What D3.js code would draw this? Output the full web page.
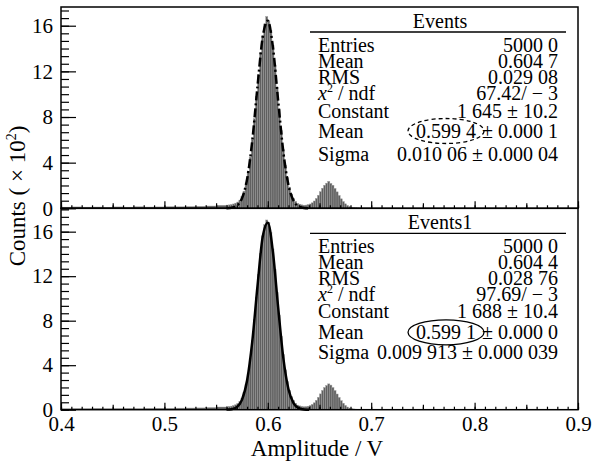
<!DOCTYPE html>
<html>
<head>
<meta charset="utf-8">
<script src="https://cdn.jsdelivr.net/npm/d3@7"></script>
<style>
body { margin: 0; background: #fff; }
svg { display: block; font-family: "Liberation Serif", "Times New Roman", serif; }
</style>
</head>
<body>
<svg id="chart" width="592" height="463" font-family="Liberation Serif, serif"></svg>
<script>
// bin edges (V): coarse bins on the flat part, 0.002 V bins over the peaks
const binEdges = [
  0.40, 0.41, 0.42, 0.43, 0.44, 0.45, 0.46, 0.47, 0.48, 0.49, 0.50, 0.51, 0.52, 0.53, 0.54, 0.55,
  0.560, 0.562, 0.564, 0.566, 0.568, 0.570, 0.572, 0.574, 0.576, 0.578,
  0.580, 0.582, 0.584, 0.586, 0.588, 0.590, 0.592, 0.594, 0.596, 0.598,
  0.600, 0.602, 0.604, 0.606, 0.608, 0.610, 0.612, 0.614, 0.616, 0.618,
  0.620, 0.622, 0.624, 0.626, 0.628, 0.630, 0.632, 0.634, 0.636, 0.638,
  0.640, 0.642, 0.644, 0.646, 0.648, 0.650, 0.652, 0.654, 0.656, 0.658,
  0.660, 0.662, 0.664, 0.666, 0.668, 0.670, 0.672, 0.674, 0.676, 0.678,
  0.680, 0.682, 0.684, 0.686, 0.688, 0.690, 0.692, 0.694, 0.696, 0.698, 0.700
];

// counts (x 10^2) per bin, "Events"
const countsTop = [
  0.10, 0.12, 0.10, 0.11, 0.09, 0.12, 0.10, 0.13, 0.11, 0.12, 0.14, 0.13, 0.15, 0.17, 0.20, 0.26,
  0.28, 0.30, 0.33, 0.38, 0.45, 0.55, 0.72, 1.02, 1.50, 2.22,
  3.20, 4.48, 6.02, 7.85, 9.80, 11.75, 13.62, 15.10, 16.15, 16.80,
  16.42, 15.60, 14.28, 12.55, 10.62, 8.66, 6.80, 5.15, 3.78, 2.68,
  1.86, 1.26, 0.86, 0.60, 0.43, 0.36, 0.30, 0.27, 0.28, 0.32,
  0.38, 0.48, 0.64, 0.86, 1.14, 1.45, 1.76, 2.02, 2.20, 2.36,
  2.18, 2.02, 1.74, 1.44, 1.12, 0.83, 0.59, 0.39, 0.25, 0.16,
  0.10, 0.07, 0.05, 0.04, 0.03, 0.03, 0.02, 0.02, 0.02, 0.02
];

// counts (x 10^2) per bin, "Events1"
const countsBottom = [
  0.09, 0.11, 0.10, 0.12, 0.10, 0.11, 0.12, 0.10, 0.12, 0.13, 0.12, 0.14, 0.15, 0.16, 0.19, 0.24,
  0.27, 0.29, 0.32, 0.37, 0.44, 0.56, 0.74, 1.04, 1.55, 2.28,
  3.30, 4.62, 6.22, 8.10, 10.12, 12.15, 14.02, 15.62, 16.62, 17.05,
  16.85, 15.92, 14.45, 12.60, 10.55, 8.50, 6.60, 4.95, 3.58, 2.52,
  1.74, 1.18, 0.82, 0.57, 0.41, 0.34, 0.29, 0.26, 0.27, 0.31,
  0.37, 0.47, 0.62, 0.84, 1.11, 1.42, 1.73, 1.99, 2.17, 2.32,
  2.21, 1.99, 1.72, 1.41, 1.10, 0.81, 0.58, 0.38, 0.24, 0.15,
  0.10, 0.07, 0.05, 0.04, 0.03, 0.03, 0.02, 0.02, 0.02, 0.01
];

// gaussian fit curves
const fitX = [0.560, 0.565, 0.570, 0.575, 0.580, 0.585, 0.590, 0.595, 0.600, 0.605, 0.610, 0.615, 0.620, 0.625, 0.630, 0.635, 0.640];
const fitTop = [0.01, 0.05, 0.23, 0.87, 2.56, 5.93, 10.64, 14.95, 16.43, 14.08, 9.44, 4.95, 2.02, 0.64, 0.16, 0.03, 0.01];
const fitBottom = [0.01, 0.05, 0.23, 0.88, 2.64, 6.14, 11.08, 15.50, 16.81, 14.14, 9.22, 4.66, 1.83, 0.56, 0.13, 0.02, 0.00];

const xTicks = [0.4, 0.5, 0.6, 0.7, 0.8, 0.9];
const yTicks = [0, 4, 8, 12, 16];

const statLabels = ["Entries", "Mean", "RMS", "chi", "Constant", "Mean", "Sigma"];
const statsTop = ["5000 0", "0.604 7", "0.029 08", "67.42/ − 3", "1 645 ± 10.2", "", "0.010 06 ± 0.000 04"];
const statsBottom = ["5000 0", "0.604 4", "0.028 76", "97.69/ − 3", "1 688 ± 10.4", "", "0.009 913 ± 0.000 039"];
const fitMeanTop = ["0.599 4", "± 0.000 1"];
const fitMeanBottom = ["0.599 1", "± 0.000 0"];

const svg = d3.select("#chart");
const left = 61, right = 578;
const serif = "Liberation Serif, serif";

const x = d3.scaleLinear().domain([0.4, 0.9]).range([left, right]);

function drawPanel(opt) {
  const y = d3.scaleLinear().domain([0, opt.ymax]).range([opt.bottom, opt.top]);
  const g = svg.append("g");

  // histogram
  const bins = opt.counts.map((v, i) => ({ x0: binEdges[i], x1: binEdges[i + 1], v: v }));
  g.selectAll("rect.bin")
    .data(bins)
    .enter().append("rect")
    .attr("class", "bin")
    .attr("x", d => x(d.x0))
    .attr("width", d => x(d.x1) - x(d.x0))
    .attr("y", d => y(d.v))
    .attr("height", d => y(0) - y(d.v))
    .attr("fill", "#5f5f5f")
    .attr("stroke", "#9c9c9c")
    .attr("stroke-width", 0.45);

  // fit
  const line = d3.line()
    .x((d, i) => x(fitX[i]))
    .y(d => y(d))
    .curve(d3.curveMonotoneX);
  g.append("path")
    .datum(opt.fit)
    .attr("d", line)
    .attr("fill", "none")
    .attr("stroke", "#000")
    .attr("stroke-width", 2.5)
    .attr("stroke-dasharray", opt.dash || null);

  // x axis ticks (inside)
  const minorX = d3.range(40, 91).map(d => d / 100);
  const midX = [0.45, 0.55, 0.65, 0.75, 0.85];
  const ax = g.append("g").attr("transform", `translate(0,${opt.bottom})`);
  ax.append("g").call(d3.axisBottom(x).tickValues(minorX).tickSize(-3).tickFormat(""));
  ax.append("g").call(d3.axisBottom(x).tickValues(midX).tickSize(-5).tickFormat(""));
  const major = ax.append("g").call(d3.axisBottom(x).tickValues(xTicks).tickSize(-7).tickPadding(6)
    .tickFormat(opt.labels ? d3.format(".1f") : ""));
  ax.selectAll(".domain").remove();
  ax.selectAll("line").attr("stroke-width", 1.2);
  ax.selectAll("g").attr("font-family", serif);
  major.selectAll("text").attr("font-size", 21).attr("font-family", serif).attr("fill", "#000");

  // y axis ticks (inside)
  const minorY = d3.range(0, opt.ymax, 4 / 6);
  const ay = g.append("g").attr("transform", `translate(${left},0)`);
  ay.append("g").call(d3.axisLeft(y).tickValues(minorY).tickSize(-8).tickFormat(""));
  const ym = ay.append("g").call(d3.axisLeft(y).tickValues(yTicks).tickSize(-15).tickPadding(8));
  ay.selectAll(".domain").remove();
  ay.selectAll("line").attr("stroke-width", 1.2);
  ay.selectAll("g").attr("font-family", serif);
  ym.selectAll("text").attr("font-size", 21).attr("font-family", serif).attr("fill", "#000");

  // frame
  g.append("rect")
    .attr("x", left).attr("y", opt.top)
    .attr("width", right - left).attr("height", opt.bottom - opt.top)
    .attr("fill", "none").attr("stroke", "#000").attr("stroke-width", 1.5);

  // stats box
  const t0 = opt.top;
  const st = g.append("g").attr("font-size", 20).attr("font-family", serif).attr("fill", "#000");
  st.append("text").attr("x", 440).attr("y", t0 + 21).attr("text-anchor", "middle").text(opt.title);
  st.append("line").attr("x1", 310).attr("x2", 566).attr("y1", t0 + 25).attr("y2", t0 + 25)
    .attr("stroke", "#000").attr("stroke-width", 1.3);

  const rowY = opt.rows;
  statLabels.forEach((lab, i) => {
    const tx = st.append("text").attr("x", 318).attr("y", t0 + rowY[i]);
    if (lab === "chi") {
      tx.append("tspan").attr("font-style", "italic").text("x");
      tx.append("tspan").attr("font-size", 12).attr("dy", -8).text("2");
      tx.append("tspan").attr("dy", 8).text(" / ndf");
    } else {
      tx.text(lab);
    }
    if (opt.stats[i]) {
      st.append("text").attr("x", 558).attr("y", t0 + rowY[i]).attr("text-anchor", "end").text(opt.stats[i]);
    }
  });

  // fitted mean with the marking ellipse
  const err = st.append("text").attr("x", 558).attr("y", t0 + rowY[5]).attr("text-anchor", "end").text(opt.fitMean[1]);
  const w = err.node().getComputedTextLength();
  const mv = st.append("text").attr("x", 558 - w - 6).attr("y", t0 + rowY[5]).attr("text-anchor", "end").text(opt.fitMean[0]);
  const bb = mv.node().getBBox();
  st.append("ellipse")
    .attr("cx", bb.x + bb.width / 2)
    .attr("cy", t0 + rowY[5] - 7)
    .attr("rx", bb.width / 2 + 8)
    .attr("ry", 12.5)
    .attr("fill", "none")
    .attr("stroke", "#000")
    .attr("stroke-width", 1.3)
    .attr("stroke-dasharray", opt.dash ? "4,3" : null);
}

drawPanel({ top: 7, bottom: 208.3, ymax: 17.64, counts: countsTop, fit: fitTop, dash: "9,3,2,3",
  labels: false, title: "Events", stats: statsTop, fitMean: fitMeanTop,
  rows: [45, 61, 77, 93, 111, 131, 154] });
drawPanel({ top: 208.3, bottom: 409.7, ymax: 18.1, counts: countsBottom, fit: fitBottom, dash: null,
  labels: true, title: "Events1", stats: statsBottom, fitMean: fitMeanBottom,
  rows: [45, 61, 77, 93, 110, 131, 151] });

// axis titles
svg.append("text")
  .attr("x", 317).attr("y", 456)
  .attr("text-anchor", "middle")
  .attr("font-size", 23)
  .attr("font-family", serif)
  .text("Amplitude / V");

const yt = svg.append("text")
  .attr("transform", "translate(25,196) rotate(-90)")
  .attr("text-anchor", "middle")
  .attr("font-size", 23)
  .attr("font-family", serif);
yt.append("tspan").text("Counts ( × 10");
yt.append("tspan").attr("font-size", 14).attr("dy", -9).text("2");
yt.append("tspan").attr("dy", 9).text(")");
</script>
</body>
</html>
